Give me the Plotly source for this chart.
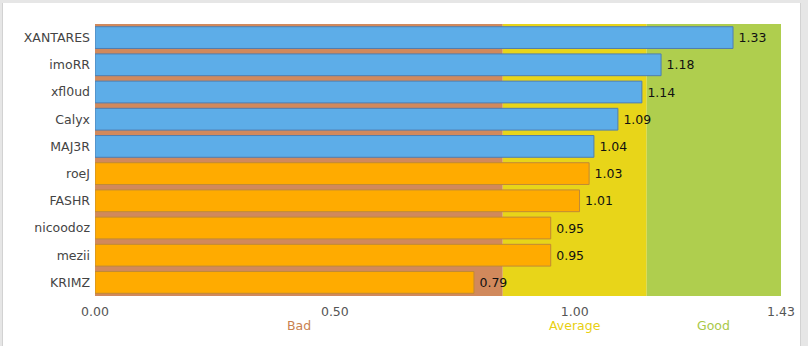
import plotly.graph_objects as go

players = ["XANTARES", "imoRR", "xfl0ud", "Calyx", "MAJ3R", "roeJ", "FASHR", "nicoodoz", "mezii", "KRIMZ"]
ratings = [1.33, 1.18, 1.14, 1.09, 1.04, 1.03, 1.01, 0.95, 0.95, 0.79]
groups = ["blue", "blue", "blue", "blue", "blue", "orange", "orange", "orange", "orange", "orange"]

band_names = ["Bad", "Average", "Good"]
band_edges = [0.0, 0.85, 1.15, 1.43]
band_colors = ["#d1895c", "#e8d519", "#afce4e"]
band_text_colors = ["#c9824f", "#e8cf12", "#a9c848"]

tick_vals = [0.0, 0.5, 1.0, 1.43]
tick_text = ["0.00", "0.50", "1.00", "1.43"]

fill_map = {"blue": "#5dade8", "orange": "#ffab00"}
line_map = {"blue": "#4f7eb0", "orange": "#c08a36"}

FONT = "DejaVu Sans, Verdana, sans-serif"

# plot-area pixel geometry (for page frame shapes)
L, R, T, B, W, H = 95, 27, 24, 50, 808, 346
PW, PH = W - L - R, H - T - B


def px(xp):
    return (xp - L) / PW


def py(yp):
    return (H - B - yp) / PH


fig = go.Figure()
fig.add_trace(go.Bar(
    y=players,
    x=ratings,
    orientation="h",
    width=0.8,
    marker=dict(color=[fill_map[g] for g in groups],
                line=dict(color=[line_map[g] for g in groups], width=1)),
    text=["\u2009" + f"{v:.2f}" for v in ratings],
    textposition="outside",
    textfont=dict(color="#111111", size=12.5, family=FONT),
    cliponaxis=False,
    hoverinfo="x+y",
))

shapes = []
frame = "#e6e6e6"
edge = "#d2d2d2"
# grey page frame around a white card
shapes.append(dict(type="rect", xref="paper", yref="paper", x0=px(0), x1=px(W), y0=py(0), y1=py(3),
                   fillcolor=frame, line=dict(width=0), layer="below"))
shapes.append(dict(type="rect", xref="paper", yref="paper", x0=px(0), x1=px(2), y0=py(H), y1=py(0),
                   fillcolor=frame, line=dict(width=0), layer="below"))
shapes.append(dict(type="rect", xref="paper", yref="paper", x0=px(801), x1=px(W), y0=py(H), y1=py(0),
                   fillcolor=frame, line=dict(width=0), layer="below"))
shapes.append(dict(type="line", xref="paper", yref="paper", x0=px(2.5), x1=px(2.5), y0=py(H), y1=py(3),
                   line=dict(color=edge, width=1), layer="below"))
shapes.append(dict(type="line", xref="paper", yref="paper", x0=px(800.5), x1=px(800.5), y0=py(H), y1=py(3),
                   line=dict(color=edge, width=1), layer="below"))
for i, name in enumerate(band_names):
    shapes.append(dict(type="rect", xref="x", yref="paper",
                       x0=band_edges[i], x1=band_edges[i + 1], y0=0, y1=1,
                       fillcolor=band_colors[i], line=dict(width=0), layer="below"))

annotations = []
for i, name in enumerate(band_names):
    annotations.append(dict(x=(band_edges[i] + band_edges[i + 1]) / 2, y=0, xref="x", yref="paper",
                            yanchor="top", yshift=-20, text=name, showarrow=False,
                            font=dict(color=band_text_colors[i], size=12.5, family=FONT)))

fig.update_layout(
    width=W, height=H,
    margin=dict(l=L, r=R, t=T, b=B),
    paper_bgcolor="#ffffff",
    plot_bgcolor="rgba(0,0,0,0)",
    showlegend=False,
    bargap=0.2,
    shapes=shapes,
    annotations=annotations,
    xaxis=dict(range=[0, 1.43], tickvals=tick_vals, ticktext=tick_text,
               showgrid=False, zeroline=False, showline=False, ticks="",
               ticklabelstandoff=6,
               tickfont=dict(color="#555555", size=12.5, family=FONT)),
    yaxis=dict(autorange="reversed", showgrid=False, zeroline=False, ticks="",
               ticklabelstandoff=4,
               tickfont=dict(color="#444444", size=12.5, family=FONT)),
    font=dict(family=FONT),
)

fig.write_html("out.html")
